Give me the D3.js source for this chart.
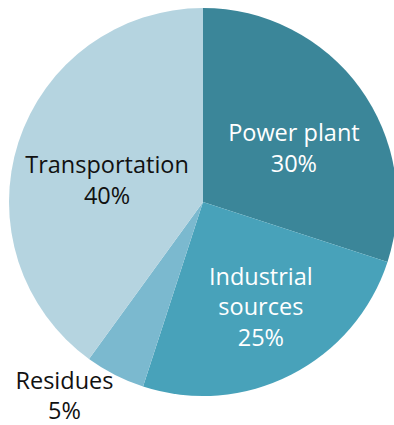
<!DOCTYPE html>
<html>
<head>
<meta charset="utf-8">
<script src="https://cdn.jsdelivr.net/npm/d3@7"></script>
<style>
  html, body { margin: 0; padding: 0; background: #fff; }
  svg { display: block; }
  text { font-family: "Open Sans", "Noto Sans", sans-serif; }
</style>
</head>
<body>
<svg id="chart" width="394" height="425"></svg>
<script>
// Emission sources, share in percent (clockwise from 12 o'clock)
const categories = ["Power plant", "Industrial sources", "Residues", "Transportation"];
const shares = [30, 25, 5, 40];
const labelLines = [["Power plant"], ["Industrial", "sources"], ["Residues"], ["Transportation"]];
const sliceColors = ["#3b8699", "#48a2ba", "#7bb9cf", "#b5d4e0"];
const labelColors = ["#ffffff", "#ffffff", "#111111", "#111111"];

const width = 394, height = 425;
const cx = 203, cy = 202, radius = 194;

// label placement: distance from centre as a fraction of radius, plus nudges
const labelRadius = [0.56, 0.6, 1.13, 0.52];
const labelNudge = [[3, 10], [5, 1], [-39, -2], [0, 9]];

const data = categories.map((c, i) => ({ name: c, value: shares[i], lines: labelLines[i], i }));

const svg = d3.select("#chart");
const g = svg.append("g").attr("transform", `translate(${cx},${cy})`);

const pie = d3.pie().value(d => d.value).sort(null);
const arc = d3.arc().innerRadius(0).outerRadius(radius);
const arcs = pie(data);

g.selectAll("path.slice")
  .data(arcs)
  .join("path")
  .attr("class", "slice")
  .attr("d", arc)
  .attr("fill", d => sliceColors[d.data.i]);

const fontSize = 23.5, lineH = 30.5;

const labels = g.selectAll("text.label")
  .data(arcs)
  .join("text")
  .attr("class", "label")
  .attr("text-anchor", "middle")
  .attr("font-size", fontSize)
  .attr("fill", d => labelColors[d.data.i])
  .attr("transform", d => {
    const r = radius * labelRadius[d.data.i];
    const [x, y] = d3.arc().innerRadius(r).outerRadius(r).centroid(d);
    const [nx, ny] = labelNudge[d.data.i];
    return `translate(${x + nx},${y + ny})`;
  });

labels.each(function(d) {
  const lines = d.data.lines.concat([d.data.value + "%"]);
  const t = d3.select(this);
  const y0 = -((lines.length - 1) * lineH) / 2 + fontSize * 0.36;
  lines.forEach((ln, k) => {
    t.append("tspan").attr("x", 0).attr("y", y0 + k * lineH).text(ln);
  });
});
</script>
</body>
</html>
